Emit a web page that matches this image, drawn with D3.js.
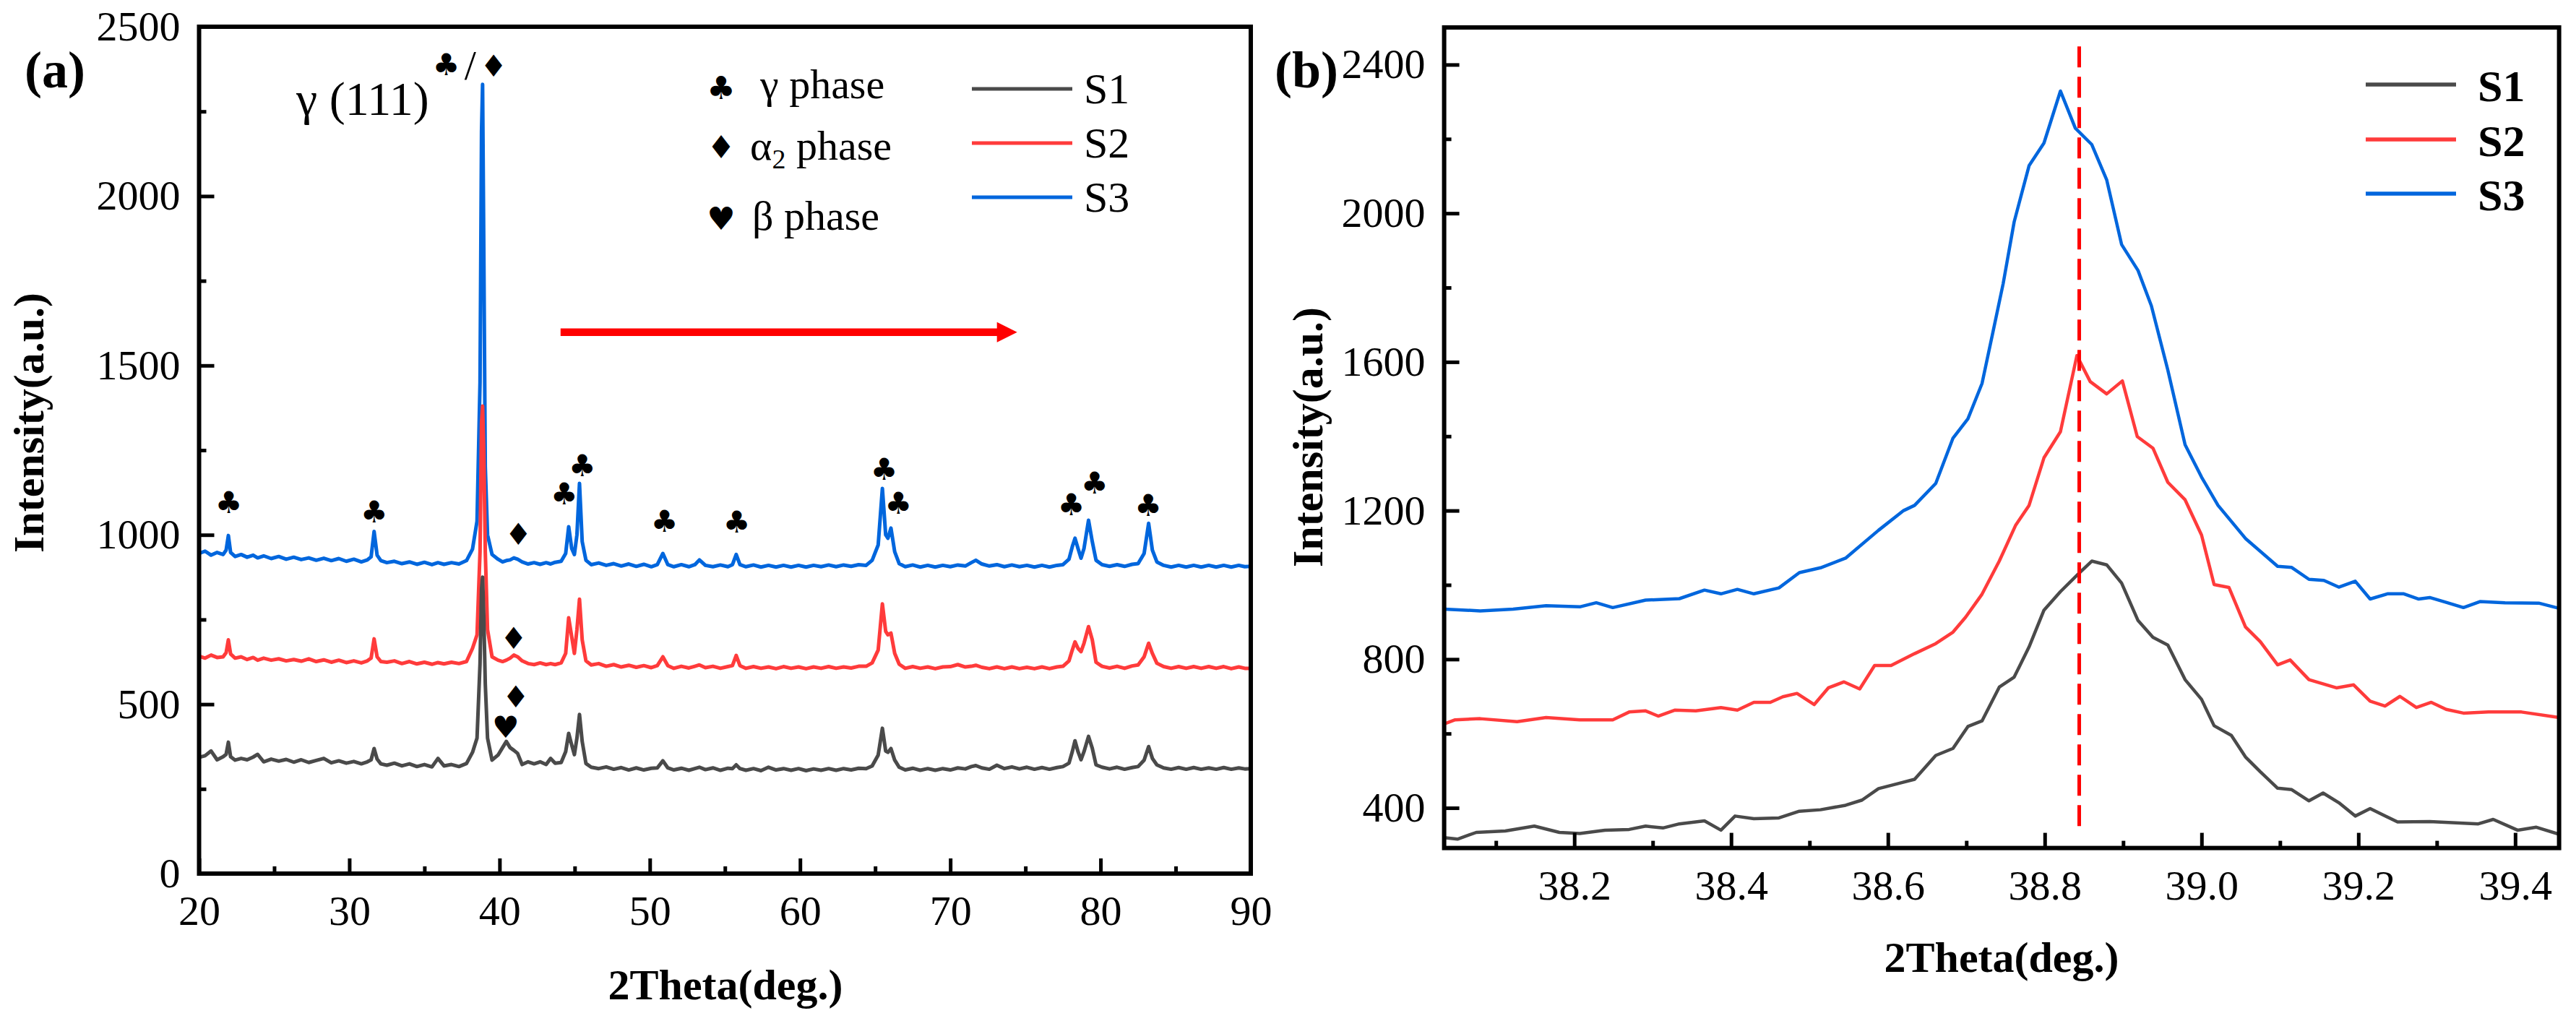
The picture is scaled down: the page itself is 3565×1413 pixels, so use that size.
<!DOCTYPE html>
<html>
<head>
<meta charset="utf-8">
<script src="https://cdn.jsdelivr.net/npm/d3@7"></script>
<style>
  body { margin: 0; background: #fff; }
  svg { display: block; }
  svg text { font-family: "Liberation Serif", "DejaVu Serif", serif; }
  svg text.sym { font-family: "DejaVu Sans", sans-serif; }
</style>
</head>
<body>
<svg id="chart" width="3565" height="1413"></svg>
<script>
// ---------------- DATA ----------------
const seriesNames = ["S1", "S2", "S3"];
const seriesColors = ["#4a4a4a", "#ff3b3b", "#0066dd"];

// Panel (a): shared 2θ grid and intensities
const thetaA = [20.0,20.4,20.8,21.2,21.6,21.8,21.95,22.1,22.4,22.8,23.2,23.6,23.9,24.3,24.8,25.3,25.8,26.3,26.8,27.3,27.8,28.3,28.8,29.3,29.8,30.3,30.8,31.2,31.45,31.65,31.85,32.1,32.5,33.0,33.5,34.0,34.5,35.0,35.5,35.9,36.3,36.8,37.3,37.8,38.2,38.5,38.7,38.8,38.87,38.95,39.05,39.2,39.5,39.9,40.2,40.45,40.7,40.95,41.2,41.5,41.9,42.3,42.7,43.1,43.4,43.7,44.1,44.4,44.6,44.8,44.98,45.15,45.32,45.5,45.75,46.1,46.6,47.1,47.6,48.1,48.6,49.1,49.6,50.1,50.5,50.87,51.2,51.6,52.1,52.6,53.0,53.3,53.7,54.2,54.7,55.2,55.5,55.75,56.0,56.4,56.9,57.4,57.9,58.4,58.9,59.4,59.9,60.4,60.9,61.4,61.9,62.4,62.9,63.4,63.9,64.4,64.8,65.2,65.48,65.7,65.85,66.05,66.3,66.6,67.0,67.5,68.0,68.5,69.0,69.5,70.0,70.5,71.0,71.4,71.7,72.1,72.6,73.1,73.6,74.1,74.6,75.1,75.6,76.1,76.6,77.1,77.5,77.9,78.12,78.3,78.5,78.7,78.9,79.2,79.45,79.7,80.1,80.6,81.1,81.6,82.1,82.5,82.9,83.2,83.45,83.75,84.2,84.7,85.2,85.7,86.2,86.7,87.2,87.7,88.2,88.7,89.2,89.6,90.0];
const s3a = [945,952,940,948,942,955,998,948,936,942,934,940,932,938,930,936,928,934,927,932,925,931,924,930,922,928,920,926,935,1010,940,924,918,922,915,920,913,919,912,918,913,918,914,924,958,1040,1450,2190,2330,1850,1200,1000,942,928,920,924,926,932,928,920,914,918,913,918,914,919,922,945,1024,960,942,1000,1152,980,925,912,917,910,915,908,914,907,913,906,912,945,912,906,912,906,912,926,910,906,911,906,912,942,912,906,911,905,910,905,910,905,910,905,910,906,911,906,911,907,912,910,925,970,1137,1000,990,1020,950,915,906,911,905,910,905,910,906,911,908,918,925,914,908,912,906,911,906,910,905,910,905,910,912,928,965,990,960,931,960,1043,980,925,912,907,912,907,913,915,945,1034,955,920,910,905,910,905,910,905,910,905,910,905,910,906,907];
const s2a = [642,636,645,638,640,652,690,648,636,640,632,638,630,636,630,634,628,632,627,634,626,631,624,630,623,628,622,628,636,693,640,626,624,628,620,626,619,624,618,623,619,624,620,626,665,705,950,1330,1380,1250,950,720,640,630,626,630,636,645,640,628,620,617,622,617,620,617,622,650,755,700,650,720,810,690,628,616,620,612,617,610,615,609,614,608,614,640,614,606,612,607,612,616,608,612,606,611,614,644,614,606,611,606,610,605,611,606,610,605,610,606,611,606,610,607,612,612,622,660,796,715,705,710,650,618,606,611,606,610,605,610,611,617,610,612,615,609,605,610,605,610,605,609,605,610,605,610,612,628,660,684,665,655,680,729,690,624,612,607,612,606,613,616,640,680,650,621,611,606,611,606,611,606,611,606,611,605,610,606,606];
const s1a = [343,348,362,336,345,352,388,345,335,340,336,344,352,330,338,332,337,329,336,328,334,340,327,333,326,331,324,330,336,369,338,324,320,326,318,324,316,322,315,340,318,322,316,325,358,400,620,840,875,760,560,400,335,350,372,390,372,364,355,322,330,324,330,322,340,326,328,360,414,380,351,400,470,390,325,314,310,315,308,313,306,312,306,311,312,333,312,306,311,305,310,314,307,312,305,311,310,321,310,305,310,304,314,306,310,305,310,304,309,305,310,305,310,306,311,310,318,350,429,362,358,369,335,314,306,311,305,310,305,310,306,312,309,316,319,312,308,320,310,315,309,314,308,313,308,313,316,326,360,392,360,336,360,405,370,321,314,309,314,308,313,316,335,375,340,321,312,308,313,308,313,308,312,308,313,308,312,309,310];

// Panel (a) annotations: [2θ, intensity, glyph]
const phaseMarksA = [
  [21.97,1095,"♣"],[31.65,1068,"♣"],[41.25,1001,"♦"],[44.3,1120,"♣"],[45.5,1205,"♣"],
  [50.98,1039,"♣"],[40.94,695,"♦"],[41.08,522,"♦"],[40.41,432,"♥"],[55.78,1038,"♣"],
  [65.6,1194,"♣"],[66.55,1093,"♣"],[78.05,1090,"♣"],[79.6,1152,"♣"],[83.18,1086,"♣"],
  [36.45,2387,"♣"],[39.6,2384,"♦"]
];
const phaseLegend = [["♣","γ phase"],["♦","α","2"," phase"],["♥","β phase"]];
const arrowA = [[44.06,1598],[74.45,1598]];

// Panel (b): [2θ, intensity]
const s1b = [[38.034,320],[38.051,316],[38.075,334],[38.112,338],[38.149,351],[38.181,334],[38.207,331],[38.239,340],[38.270,342],[38.291,351],[38.313,346],[38.334,357],[38.366,365],[38.387,340],[38.405,378],[38.429,371],[38.461,373],[38.487,391],[38.514,395],[38.546,407],[38.567,421],[38.588,452],[38.614,466],[38.634,477],[38.661,541],[38.683,560],[38.702,619],[38.720,634],[38.742,725],[38.761,752],[38.780,833],[38.799,932],[38.820,982],[38.842,1028],[38.860,1064],[38.879,1054],[38.898,1005],[38.919,904],[38.938,859],[38.957,838],[38.979,745],[39.000,692],[39.016,621],[39.038,595],[39.056,537],[39.075,497],[39.097,453],[39.115,449],[39.137,419],[39.155,440],[39.175,414],[39.196,378],[39.215,398],[39.250,362],[39.291,363],[39.353,357],[39.372,369],[39.403,340],[39.427,348],[39.456,329]];
const s2b = [[38.034,626],[38.048,637],[38.080,640],[38.127,632],[38.164,643],[38.207,637],[38.249,637],[38.270,658],[38.291,661],[38.307,647],[38.328,663],[38.355,661],[38.387,670],[38.408,663],[38.429,684],[38.450,684],[38.466,699],[38.484,708],[38.506,678],[38.524,723],[38.544,739],[38.564,720],[38.583,783],[38.604,783],[38.634,815],[38.661,842],[38.683,873],[38.699,913],[38.720,975],[38.742,1064],[38.763,1161],[38.780,1214],[38.799,1342],[38.820,1412],[38.841,1617],[38.858,1547],[38.879,1514],[38.899,1549],[38.918,1399],[38.938,1368],[38.957,1276],[38.979,1229],[39.000,1134],[39.016,1001],[39.035,993],[39.056,887],[39.075,847],[39.097,785],[39.113,798],[39.137,745],[39.172,723],[39.194,731],[39.215,687],[39.234,674],[39.253,700],[39.274,670],[39.293,684],[39.312,665],[39.334,655],[39.366,658],[39.408,658],[39.456,643]];
const s3b = [[38.034,935],[38.080,930],[38.122,935],[38.164,944],[38.207,941],[38.228,952],[38.249,939],[38.291,959],[38.334,963],[38.366,986],[38.387,976],[38.408,988],[38.429,976],[38.461,992],[38.487,1033],[38.514,1046],[38.546,1072],[38.588,1147],[38.620,1200],[38.634,1214],[38.661,1273],[38.683,1395],[38.702,1447],[38.720,1542],[38.734,1681],[38.747,1811],[38.761,1977],[38.780,2128],[38.799,2189],[38.820,2329],[38.839,2229],[38.860,2185],[38.879,2090],[38.898,1916],[38.919,1846],[38.936,1751],[38.957,1578],[38.979,1377],[39.000,1290],[39.021,1214],[39.056,1125],[39.097,1050],[39.115,1047],[39.137,1015],[39.156,1012],[39.175,994],[39.196,1010],[39.215,962],[39.237,976],[39.258,976],[39.277,962],[39.291,966],[39.312,953],[39.334,939],[39.355,955],[39.387,952],[39.430,951],[39.456,937]];
const refLineB = [[38.844,351],[38.844,2469]];

// Ticks
const xMajorA = [20,30,40,50,60,70,80,90];
const xMinorA = [25,35,45,55,65,75,85];
const yMajorA = [0,500,1000,1500,2000,2500];
const yMinorA = [250,750,1250,1750,2250];
const xMajorB = [38.2,38.4,38.6,38.8,39.0,39.2,39.4];
const xMinorB = [38.1,38.3,38.5,38.7,38.9,39.1,39.3];
const yMajorB = [400,800,1200,1600,2000,2400];
const yMinorB = [600,1000,1400,1800,2200];

// ---------------- DRAW ----------------
const svg = d3.select("#chart");
svg.append("rect").attr("width",3565).attr("height",1413).attr("fill","#fff");

const xA = d3.scaleLinear().domain([20,90]).range([275.5,1731]);
const yA = d3.scaleLinear().domain([0,2500]).range([1209,37]);
const xB = d3.scaleLinear().domain([38.034,39.456]).range([1998.6,3541.6]);
const yB = d3.scaleLinear().domain([292,2500]).range([1173.6,38]);

function clip(id, x, y) {
  svg.append("clipPath").attr("id", id).append("rect")
    .attr("x", x.range()[0]).attr("y", y.range()[1])
    .attr("width", x.range()[1]-x.range()[0]).attr("height", y.range()[0]-y.range()[1]);
}
clip("clipA", xA, yA);
clip("clipB", xB, yB);

// Panel (a) traces (S3 bottom, S1 top)
const gA = svg.append("g").attr("clip-path","url(#clipA)");
const lineA = vals => d3.line().x((d,i)=>xA(thetaA[i])).y(d=>yA(d))(vals);
[[s3a,2],[s2a,1],[s1a,0]].forEach(([vals,k]) => {
  gA.append("path").attr("d", lineA(vals)).attr("fill","none")
    .attr("stroke", seriesColors[k]).attr("stroke-width",5).attr("stroke-linejoin","round");
});

// Panel (b) traces
const gB = svg.append("g").attr("clip-path","url(#clipB)");
const lineB = d3.line().x(d=>xB(d[0])).y(d=>yB(d[1]));
[[s3b,2],[s2b,1],[s1b,0]].forEach(([pts,k]) => {
  gB.append("path").attr("d", lineB(pts)).attr("fill","none")
    .attr("stroke", seriesColors[k]).attr("stroke-width",4.5).attr("stroke-linejoin","round");
});
gB.append("path").attr("d", lineB(refLineB)).attr("stroke","#ff0000")
  .attr("stroke-width",5).attr("stroke-dasharray","29,13");

// Axes
function axes(x, y, xMaj, xMin, yMaj, yMin, xFmt) {
  const y0 = y.range()[0], x0 = x.range()[0];
  const style = g => {
    g.attr("font-family", null).attr("font-size", null);
    g.select(".domain").remove();
    g.selectAll("line").attr("stroke","#000").attr("stroke-width",5);
    g.selectAll("text").attr("font-size",58).attr("fill","#000");
  };
  svg.append("g").attr("transform",`translate(0,${y0})`)
    .call(d3.axisBottom(x).tickValues(xMaj).tickSize(-21).tickPadding(30).tickFormat(xFmt)).call(style);
  svg.append("g").attr("transform",`translate(0,${y0})`)
    .call(d3.axisBottom(x).tickValues(xMin).tickSize(-10).tickFormat("")).call(style);
  svg.append("g").attr("transform",`translate(${x0},0)`)
    .call(d3.axisLeft(y).tickValues(yMaj).tickSize(-21).tickPadding(26).tickFormat(d3.format("d"))).call(style);
  svg.append("g").attr("transform",`translate(${x0},0)`)
    .call(d3.axisLeft(y).tickValues(yMin).tickSize(-10).tickFormat("")).call(style);
  svg.append("rect").attr("x",x.range()[0]).attr("y",y.range()[1])
    .attr("width",x.range()[1]-x.range()[0]).attr("height",y.range()[0]-y.range()[1])
    .attr("fill","none").attr("stroke","#000").attr("stroke-width",6);
}
axes(xA, yA, xMajorA, xMinorA, yMajorA, yMinorA, d3.format("d"));
axes(xB, yB, xMajorB, xMinorB, yMajorB, yMinorB, d3.format(".1f"));

// Titles
function txt(x, y, s, size, weight, anchor, rot) {
  const t = svg.append("text").attr("x",x).attr("y",y).text(s)
    .attr("font-size",size).attr("font-weight",weight||"normal")
    .attr("text-anchor",anchor||"start").attr("fill","#000");
  if (rot) t.attr("transform",`rotate(${rot},${x},${y})`);
  return t;
}
txt(1004, 1383, "2Theta(deg.)", 60, "bold", "middle");
txt(2770, 1345, "2Theta(deg.)", 60, "bold", "middle");
txt(60, 585, "Intensity(a.u.)", 60, "bold", "middle", -90);
txt(1830, 605, "Intensity(a.u.)", 60, "bold", "middle", -90);
txt(34, 121, "(a)", 72, "bold");
txt(1764, 121, "(b)", 72, "bold");

// Panel (a) annotations
svg.append("text").attr("x", xA(26.47)).attr("y", yA(2239)).text("γ (111)")
  .attr("font-size",66).attr("fill","#000");
phaseMarksA.forEach(([t,v,g]) => {
  svg.append("text").attr("class","sym").attr("x",xA(t)).attr("y",yA(v)).text(g)
    .attr("font-size",42).attr("text-anchor","middle")
    .attr("dominant-baseline","central").attr("fill","#000");
});
svg.append("text").attr("x", xA(38.05)).attr("y", yA(2345)).text("/")
  .attr("font-size",58).attr("text-anchor","middle").attr("fill","#000");

// Red arrow
const ax0 = xA(arrowA[0][0]), ax1 = xA(arrowA[1][0]), ay = yA(arrowA[0][1]);
svg.append("line").attr("x1",ax0).attr("x2",ax1-22).attr("y1",ay).attr("y2",ay)
  .attr("stroke","#ff0000").attr("stroke-width",10.5);
svg.append("path").attr("d",`M${ax1},${ay} L${ax1-28},${ay-14} L${ax1-28},${ay+14} Z`).attr("fill","#ff0000");

// Phase legend (a)
const phY = [121, 203, 302], phTextY = [136, 221, 318], phTextX = [1052, 1038, 1041];
phaseLegend.forEach((p,i) => {
  svg.append("text").attr("class","sym").attr("x",998).attr("y",phY[i]).text(p[0])
    .attr("font-size",44).attr("text-anchor","middle")
    .attr("dominant-baseline","central").attr("fill","#000");
  const t = svg.append("text").attr("x",phTextX[i]).attr("y",phTextY[i])
    .attr("font-size",58).attr("fill","#000");
  if (p.length === 2) t.text(p[1]);
  else {
    t.append("tspan").text(p[1]);
    t.append("tspan").text(p[2]).attr("font-size",38).attr("dy",12);
    t.append("tspan").text(p[3]).attr("dy",-12);
  }
});

// Series legends
const legA = [123, 198, 273];
seriesNames.forEach((n,i) => {
  svg.append("line").attr("x1",1345).attr("x2",1484).attr("y1",legA[i]).attr("y2",legA[i])
    .attr("stroke",seriesColors[i]).attr("stroke-width",5);
  txt(1500, legA[i]+20, n, 60, "normal");
});
const legB = [117, 193, 268];
seriesNames.forEach((n,i) => {
  svg.append("line").attr("x1",3274).attr("x2",3399).attr("y1",legB[i]).attr("y2",legB[i])
    .attr("stroke",seriesColors[i]).attr("stroke-width",5.5);
  txt(3429, legB[i]+23, n, 62, "bold");
});
</script>
</body>
</html>
